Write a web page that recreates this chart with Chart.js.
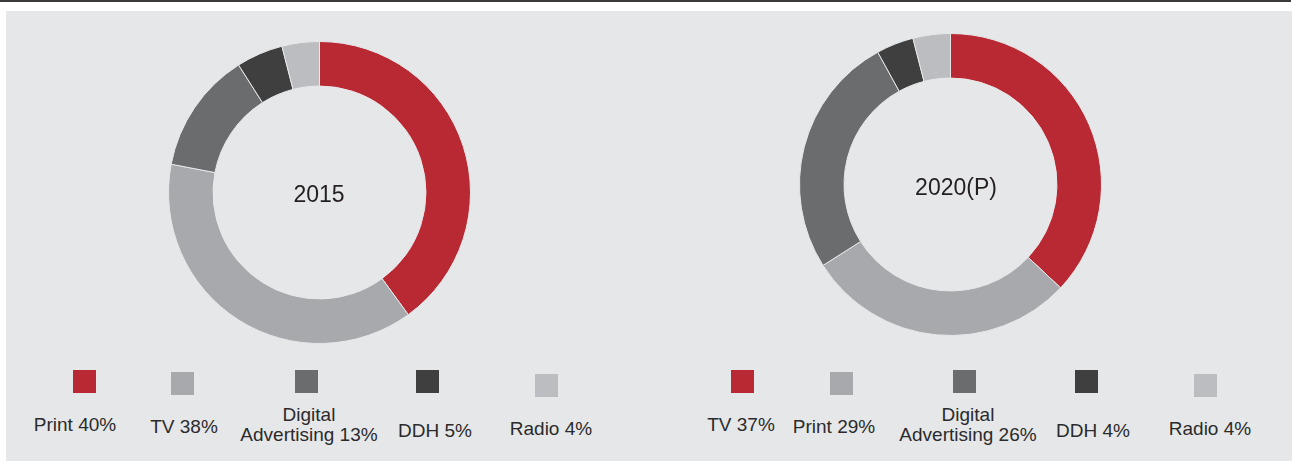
<!DOCTYPE html>
<html>
<head>
<meta charset="utf-8">
<script src="https://cdn.jsdelivr.net/npm/chart.js@4.4.1/dist/chart.umd.min.js"></script>
<style>
  html, body { margin: 0; padding: 0; background: #fff; }
  body { width: 1292px; height: 467px; position: relative; overflow: hidden;
         font-family: "Liberation Sans", Arial, sans-serif; color: #2b2b2c; }
  #topline { position: absolute; left: 0; top: 0; width: 1291px; height: 2px; background: #3a3a3b; }
  #panel { position: absolute; left: 6px; top: 11px; width: 1286px; height: 450px; background: #e6e7e8; }
  .ring { position: absolute; width: 303px; height: 303px; }
  .sq { position: absolute; width: 23px; height: 23px; }
  .lbl { position: absolute; width: 200px; text-align: center; font-size: 19px;
         line-height: 20.4px; white-space: pre-line; }
</style>
</head>
<body>
<div id="topline"></div>
<div id="panel"></div>
<div class="ring" style="left:168px; top:41px;"><canvas id="chart2015"></canvas></div>
<div class="ring" style="left:799px; top:33px;"><canvas id="chart2020"></canvas></div>
<div id="legends"></div>

<script>
// datos de los dos anillos
const categories2015 = ['Print', 'TV', 'Digital\nAdvertising', 'DDH', 'Radio'];
const values2015 = [40, 38, 13, 5, 4];

const categories2020 = ['TV', 'Print', 'Digital\nAdvertising', 'DDH', 'Radio'];
const values2020 = [37, 29, 26, 4, 4];

// colores por posicion (el rojo siempre es el primer segmento)
const sliceColors = ['#b92933', '#a8a9ac', '#6b6c6e', '#3f3f40', '#bcbdc0'];

// posiciones de la leyenda: [x cuadro, y cuadro, centro texto x, linea base texto]
const legendLayout2015 = [[73, 370, 75, 431], [171, 372, 184, 433], [295, 370, 309, 421], [416, 370, 435, 437], [535, 374, 551, 435]];
const legendLayout2020 = [[731, 370, 741, 431], [830, 372, 834, 433], [953, 370, 968, 421], [1075, 370, 1093, 437], [1194, 374, 1210, 435]];

// texto en el centro del anillo
const centerText = {
    id: 'centerText',
    afterDraw(chart, args, opts) {
        const ctx = chart.ctx;
        const a = chart.chartArea;
        ctx.save();
        ctx.font = '23px "Liberation Sans", Arial, sans-serif';
        ctx.fillStyle = '#231f20';
        ctx.textAlign = 'center';
        ctx.textBaseline = 'middle';
        ctx.fillText(opts.text, (a.left + a.right) / 2 + (opts.dx || 0), (a.top + a.bottom) / 2 + (opts.dy || 0));
        ctx.restore();
    }
};

function makeRing(id, labels, values, title, dx, dy) {
    return new Chart(document.getElementById(id), {
        type: 'doughnut',
        data: {
            labels: labels,
            datasets: [{
                data: values,
                backgroundColor: sliceColors,
                borderColor: '#e6e7e8',
                borderWidth: 1
            }]
        },
        options: {
            responsive: true,
            maintainAspectRatio: false,
            animation: false,
            cutout: '70.5%',
            layout: { padding: 0 },
            plugins: {
                legend: { display: false },
                tooltip: { enabled: false },
                centerText: { text: title, dx: dx, dy: dy }
            }
        },
        plugins: [centerText]
    });
}

function makeLegend(labels, values, layout) {
    const box = document.getElementById('legends');
    labels.forEach((label, i) => {
        const [sx, sy, tx, base] = layout[i];
        const sq = document.createElement('div');
        sq.className = 'sq';
        sq.style.left = sx + 'px';
        sq.style.top = sy + 'px';
        sq.style.background = sliceColors[i];
        box.appendChild(sq);

        const t = document.createElement('div');
        t.className = 'lbl';
        t.textContent = label + ' ' + values[i] + '%';
        t.style.left = (tx - 100) + 'px';
        t.style.top = (base - 16.5) + 'px';
        box.appendChild(t);
    });
}

makeRing('chart2015', categories2015, values2015, '2015', -0.5, 3.5);
makeRing('chart2020', categories2020, values2020, '2020(P)', 5.5, 4.5);
makeLegend(categories2015, values2015, legendLayout2015);
makeLegend(categories2020, values2020, legendLayout2020);
</script>
</body>
</html>
